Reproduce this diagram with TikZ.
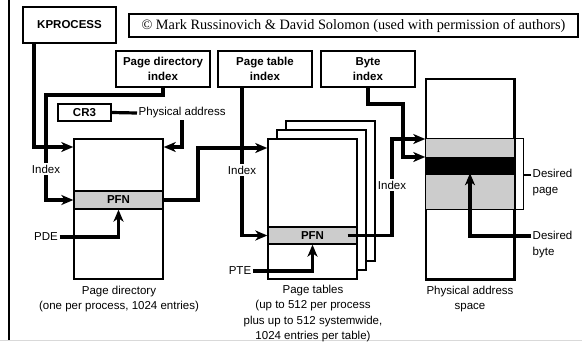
\documentclass[tikz,border=0pt]{standalone}
\usepackage{fontspec}
\setmainfont{Liberation Sans}
\newfontfamily\crfont{Liberation Serif}
\usetikzlibrary{arrows.meta,calc}
\tikzset{
  lbl/.style={font=\fontsize{11.5}{15.5}\selectfont, inner sep=1.5pt},
  hdrbox/.style={draw, line width=1.5pt, fill=white, font=\bfseries\fontsize{11.5}{15}\selectfont, align=center, inner sep=0pt},
  tbl/.style={draw, line width=1.5pt, fill=white, inner sep=0pt},
  pfnrow/.style={draw, line width=1.3pt, fill=gray!40, inner sep=0pt, font=\bfseries\fontsize{11.5}{13}\selectfont},
  wire/.style={line width=3.2pt},
  arrowend/.style={-{Stealth[length=12pt,width=10pt,inset=3.5pt]}},
  gapwhite/.style={lbl, fill=white, inner sep=2pt},
}
\begin{document}
\begin{tikzpicture}[x=1pt,y=-1pt]
\useasboundingbox (0,0) rectangle (582,341);
% frame lines
\draw[line width=2.5pt] (9,0) -- (9,341);
\draw[gray!30, line width=1pt] (0,340.5) -- (582,340.5);

% header boxes
\node[hdrbox, minimum width=93pt, minimum height=36pt] (kp) at (69.5,25) {KPROCESS};
\node[draw, line width=1.2pt, minimum width=449pt, minimum height=23pt, inner sep=0pt, font=\crfont\fontsize{14.3}{16}\selectfont] (copy) at (353.5,25.5) {© Mark Russinovich \& David Solomon (used with permission of authors)};
\node[hdrbox, minimum width=94pt, minimum height=36pt] (pdi) at (163,69) {Page directory\\index};
\node[hdrbox, minimum width=94pt, minimum height=36pt] (pti) at (265,69) {Page table\\index};
\node[hdrbox, minimum width=94pt, minimum height=36pt] (bi) at (368,69) {Byte\\index};
\node[hdrbox, minimum width=53pt, minimum height=17pt] (cr3) at (84.5,112.5) {CR3};
\node[lbl, anchor=west] (pa) at (137,113) {Physical address};

% page directory
\node[tbl, minimum width=89pt, minimum height=140pt] (pd) at (118.5,209) {};
\node[pfnrow, minimum width=89pt, minimum height=18pt] (pdpfn) at (118.5,200) {PFN};

% page tables
\node[tbl, minimum width=89pt, minimum height=140pt] (pt3) at (330.5,191) {};
\node[tbl, minimum width=89pt, minimum height=140pt] (pt2) at (321.5,200) {};
\node[tbl, minimum width=89pt, minimum height=140pt] (ptf) at (312.5,209) {};
\node[pfnrow, minimum width=89pt, minimum height=17pt] (ptpfn) at (312.5,235.5) {PFN};

% physical address space
\node[tbl, minimum width=88pt, minimum height=200pt] (pas) at (470,179) {};
\node[fill=gray!40, minimum width=88pt, minimum height=70pt, inner sep=0pt] (gband) at (470,174) {};
\node[fill=black, minimum width=88pt, minimum height=18pt, inner sep=0pt] (blk) at (470,166) {};
\draw[line width=1.5pt] (pas.north west) rectangle (pas.south east);
\draw[line width=1.3pt] (gband.north west) -- (gband.north east);
\draw[line width=1.3pt] (gband.south west) -- (gband.south east);

% desired page bracket
\draw[line width=1.3pt] (gband.north east) -- ++(9,0) |- (gband.south east);
\coordinate (brk) at ($(gband.east)+(9,1)$);
\node[lbl, anchor=west, align=left] (dp) at (531,182.5) {Desired\\page};
\draw[line width=1.3pt] (brk) -- (dp.west |- brk);

% connectors
\draw[wire] (cr3.east) -- (pa.west);
\draw[wire, arrowend] (kp.south -| 34,0) |- (pd.west |- 0,147);
\draw[wire, arrowend] (pdi.south) |- (46,95) |- (pdpfn.west);
\draw[wire, arrowend] (pa.south -| 182,0) |- (pd.east |- 0,147);
\node[lbl] (pde) at (46,237) {PDE};
\draw[wire, arrowend] (pde.east) -| ([yshift=0pt]pdpfn.south);
\draw[wire, arrowend] (pdpfn.east) -| (198,148) -- (ptf.west |- 0,148);
\draw[wire, arrowend] (pti.south -| 242,0) |- (ptpfn.west);
\node[lbl] (pte) at (240,271) {PTE};
\draw[wire, arrowend] (pte.east) -| (ptpfn.south);
\draw[wire, arrowend] ([xshift=-10pt]ptpfn.east) -| (392,139) -- (pas.west |- 0,139);
\draw[wire, arrowend] (bi.south) |- (403,104) |- (pas.west |- 0,157);
\node[lbl, anchor=west, align=left] (db) at (531,244.5) {Desired\\byte};
\draw[wire, arrowend] (db.west |- 0,236) -| ([yshift=2pt]blk.south);

% index labels
\node[gapwhite] (ix1) at (46,169) {Index};
\node[gapwhite] (ix2) at (242,170) {Index};
\node[gapwhite] (ix3) at (392,185) {Index};

% captions
\node[lbl, align=center] (cpd) at (119,299) {Page directory\\(one per process, 1024 entries)};
\node[lbl, align=center] (cpt) at (313,313.5) {Page tables\\(up to 512 per process\\plus up to 512 systemwide,\\1024 entries per table)};
\node[lbl, align=center] (cpas) at (470,299) {Physical address\\space};
\end{tikzpicture}
\end{document}
